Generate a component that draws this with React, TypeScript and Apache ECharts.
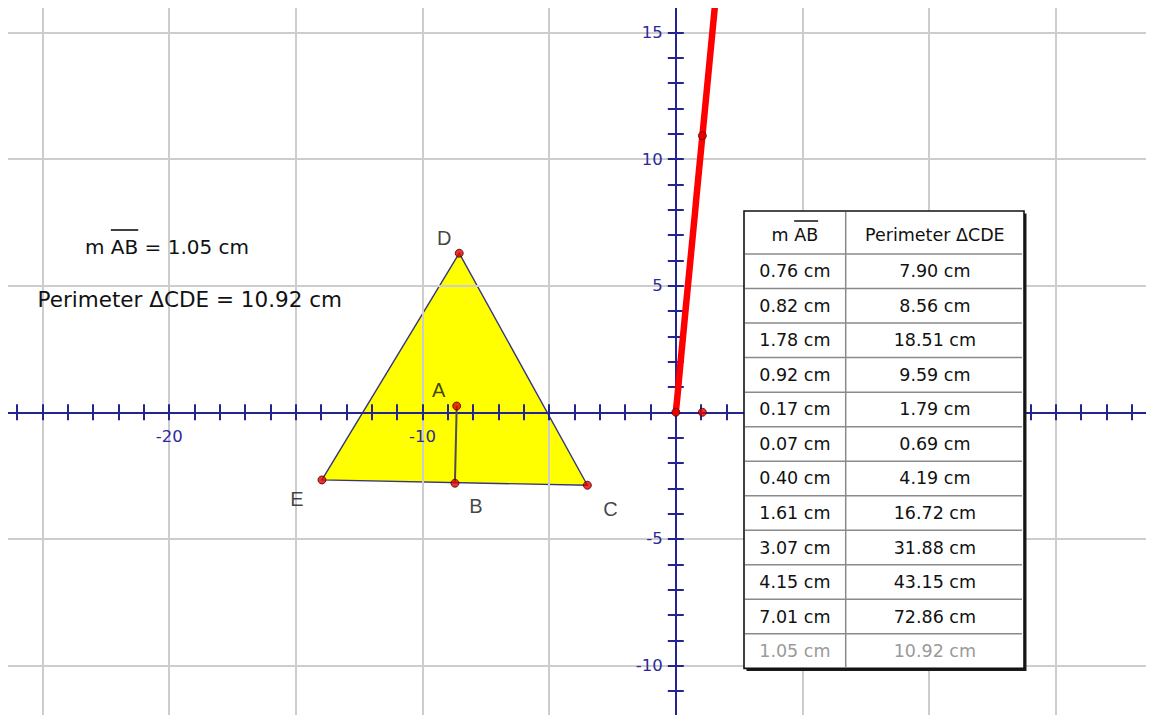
import React, { useEffect, useRef } from "react";
import * as echarts from "echarts";

// ---- data ----
const abLengths = [0.76, 0.82, 1.78, 0.92, 0.17, 0.07, 0.4, 1.61, 3.07, 4.15, 7.01, 1.05];
const perimeters = [7.9, 8.56, 18.51, 9.59, 1.79, 0.69, 4.19, 16.72, 31.88, 43.15, 72.86, 10.92];
const tableHeaders = ["m AB", "Perimeter ΔCDE"];

const pointNames = ["A", "B", "C", "D", "E"];
const pointXs = [-8.65, -8.72, -3.49, -8.55, -13.97];
const pointYs = [0.25, -2.8, -2.88, 6.28, -2.67];
const triangleOrder = ["C", "D", "E"];
const segmentOrder = ["A", "B"];
const origin = [0, 0];

const xTickLabels = [-20, -10];
const yTickLabels = [-10, -5, 5, 10, 15];
const xRange = [-30, 20];
const yRange = [-15, 20];

// ---- styling ----
const W = 1146;
const H = 707;
const S = 25.33;
const OX = 667.8;
const OY = 404.3;
const NAVY = "#24248f";
const LABEL_BLUE = "#2a2a9c";
const FONT = '"DejaVu Sans", sans-serif';
const labelOffsets: Record<string, number[]> = {
  A: [-18, -16],
  B: [21, 23],
  C: [23, 24],
  D: [-15, -15],
  E: [-25, 19],
};

function pt(name: string) {
  const i = pointNames.indexOf(name);
  return [pointXs[i], pointYs[i]];
}

function measure(text: string, font: string) {
  const ctx = document.createElement("canvas").getContext("2d");
  if (!ctx) return text.length * 10;
  ctx.font = font;
  return ctx.measureText(text).width;
}

// pixel distances from each grid edge to the zero line
const gridLeft = OX + xRange[0] * S;
const gridRightEdge = OX + xRange[1] * S;
const gridTop = OY - yRange[1] * S;
const gridBottomEdge = OY - yRange[0] * S;

function makeAxis(dim: "x" | "y", main: boolean, range: number[], labels: number[]) {
  let position: string;
  let offset: number;
  if (dim === "x") {
    position = main ? "bottom" : "top";
    offset = main ? -(gridBottomEdge - OY) : -(OY - gridTop);
  } else {
    position = main ? "left" : "right";
    offset = main ? -(OX - gridLeft) : -(gridRightEdge - OX);
  }
  return {
    type: "value",
    gridIndex: 0,
    position,
    offset,
    min: range[0],
    max: range[1],
    interval: 5,
    axisLine: {
      show: true,
      onZero: false,
      lineStyle: { color: NAVY, width: 2 },
    },
    axisTick: { show: true, length: 8, lineStyle: { color: NAVY, width: 2 } },
    minorTick: { show: true, splitNumber: 5, length: 8, lineStyle: { color: NAVY, width: 2 } },
    splitLine: { show: main, lineStyle: { color: "#cdcdcd", width: 2 } },
    minorSplitLine: { show: false },
    axisLabel: main
      ? {
          show: true,
          color: LABEL_BLUE,
          fontFamily: "DejaVu Sans",
          fontSize: 16.5,
          margin: dim === "x" ? 16 : 13,
          formatter: (v: number) => (labels.includes(Number(v)) ? String(v) : ""),
        }
      : { show: false },
  };
}

export default function App() {
  const ref = useRef<HTMLDivElement>(null);

  useEffect(() => {
    document.documentElement.style.overflow = "hidden";
    document.body.style.overflow = "hidden";
    const chart = echarts.init(ref.current!, null, { renderer: "svg" });

    const n = abLengths.length;
    const abNow = abLengths[n - 1];
    const perNow = perimeters[n - 1];

    const locus = [
      origin,
      ...abLengths.map((a, i) => [a, perimeters[i]]).sort((p, q) => p[0] - q[0]),
    ];

    const triangle = triangleOrder.map(pt);

    // left measurement texts
    const font1 = `20px ${FONT}`;
    const font2 = `21.5px ${FONT}`;
    const t1 = `m AB = ${abNow.toFixed(2)} cm`;
    const t2 = `Perimeter ΔCDE = ${perNow.toFixed(2)} cm`;
    const t1x = 77;
    const t1y = 239;
    const ob1s = t1x + measure("m ", font1);
    const ob1e = ob1s + measure("AB", font1);

    // table geometry
    const tL = 736;
    const tT = 203;
    const tR = 1016;
    const tB = 660.4;
    const colX = 837.7;
    const headB = 246;
    const rowH = (tB - headB) / n;
    const c1 = (tL + colX) / 2;
    const c2 = (colX + tR) / 2;
    const tblFont = `17.5px ${FONT}`;
    const hw = measure(tableHeaders[0], tblFont);
    const obHs = c1 - hw / 2 + measure("m ", tblFont);
    const obHe = obHs + measure("AB", tblFont);

    const tableEls: any[] = [
      { type: "rect", z: 20, shape: { x: tL + 2.5, y: tT + 2.5, width: tR - tL, height: tB - tT }, style: { fill: "#1a1a1a" } },
      { type: "rect", z: 21, shape: { x: tL, y: tT, width: tR - tL, height: tB - tT }, style: { fill: "#ffffff", stroke: "#111111", lineWidth: 1.6 } },
      { type: "line", z: 22, shape: { x1: colX, y1: tT + 1, x2: colX, y2: tB - 1 }, style: { stroke: "#8a8a8a", lineWidth: 1.5 } },
    ];
    for (let i = 0; i < n; i++) {
      const y = headB + rowH * i;
      tableEls.push({ type: "line", z: 22, shape: { x1: tL + 1, y1: y, x2: tR - 2, y2: y }, style: { stroke: "#8a8a8a", lineWidth: 1.5 } });
    }
    tableEls.push({ type: "text", z: 23, x: c1, y: 227, style: { text: tableHeaders[0], font: tblFont, fill: "#111111", align: "center", verticalAlign: "middle" } });
    tableEls.push({ type: "text", z: 23, x: c2, y: 227, style: { text: tableHeaders[1], font: tblFont, fill: "#111111", align: "center", verticalAlign: "middle" } });
    tableEls.push({ type: "line", z: 23, shape: { x1: obHs, y1: 213, x2: obHe, y2: 213 }, style: { stroke: "#111111", lineWidth: 1.5 } });
    for (let i = 0; i < n; i++) {
      const y = headB + rowH * (i + 0.5);
      const col = i === n - 1 ? "#9a9a9a" : "#111111";
      tableEls.push({ type: "text", z: 23, x: c1, y, style: { text: `${abLengths[i].toFixed(2)} cm`, font: tblFont, fill: col, align: "center", verticalAlign: "middle" } });
      tableEls.push({ type: "text", z: 23, x: c2, y, style: { text: `${perimeters[i].toFixed(2)} cm`, font: tblFont, fill: col, align: "center", verticalAlign: "middle" } });
    }

    const option: any = {
      animation: false,
      backgroundColor: "#ffffff",
      grid: {
        left: gridLeft,
        right: W - gridRightEdge,
        top: gridTop,
        bottom: H - gridBottomEdge,
        outerBoundsMode: "none",
        containLabel: false,
      },
      xAxis: [makeAxis("x", true, xRange, xTickLabels), makeAxis("x", false, xRange, xTickLabels)],
      yAxis: [makeAxis("y", true, yRange, yTickLabels), makeAxis("y", false, yRange, yTickLabels)],
      series: [
        {
          type: "custom",
          coordinateSystem: "cartesian2d",
          z: -1,
          silent: true,
          data: triangle,
          renderItem: (params: any, api: any) => {
            if (params.dataIndex !== 0) return null;
            return {
              type: "polygon",
              shape: { points: triangle.map((p) => api.coord(p)) },
              style: { fill: "#ffff00", stroke: "#36367a", lineWidth: 1.4 },
            };
          },
        },
        {
          type: "line",
          data: segmentOrder.map(pt),
          symbol: "none",
          z: 3,
          lineStyle: { color: "#4d4d4d", width: 2 },
          silent: true,
        },
        {
          type: "line",
          data: locus,
          symbol: "none",
          z: 4,
          clip: true,
          lineStyle: { color: "#ff0000", width: 6.5, cap: "round" },
          silent: true,
        },
        {
          type: "scatter",
          z: 6,
          symbolSize: 8,
          itemStyle: { color: "#e60000", borderColor: "#4a0000", borderWidth: 1 },
          label: {
            show: true,
            position: "inside",
            formatter: "{b}",
            color: "#111111",
            fontFamily: "Liberation Sans",
            fontSize: 20,
          },
          data: pointNames.map((nm, i) => ({
            name: nm,
            value: [pointXs[i], pointYs[i]],
            label: { offset: labelOffsets[nm] },
          })),
        },
        {
          type: "scatter",
          z: 6,
          symbolSize: 8,
          itemStyle: { color: "#e60000", borderColor: "#4a0000", borderWidth: 1 },
          data: [origin, [abNow, 0], [abNow, perNow]],
        },
      ],
      graphic: [
        { type: "text", z: 10, x: t1x, y: t1y, style: { text: t1, font: font1, fill: "#111111", verticalAlign: "middle" } },
        { type: "line", z: 10, shape: { x1: ob1s, y1: 222, x2: ob1e, y2: 222 }, style: { stroke: "#111111", lineWidth: 1.6 } },
        { type: "text", z: 10, x: 29.5, y: 291, style: { text: t2, font: font2, fill: "#111111", verticalAlign: "middle" } },
        ...tableEls,
      ],
    };

    chart.setOption(option);
    return () => chart.dispose();
  }, []);

  return <div ref={ref} style={{ width: W, height: H, overflow: "hidden" }} />;
}
